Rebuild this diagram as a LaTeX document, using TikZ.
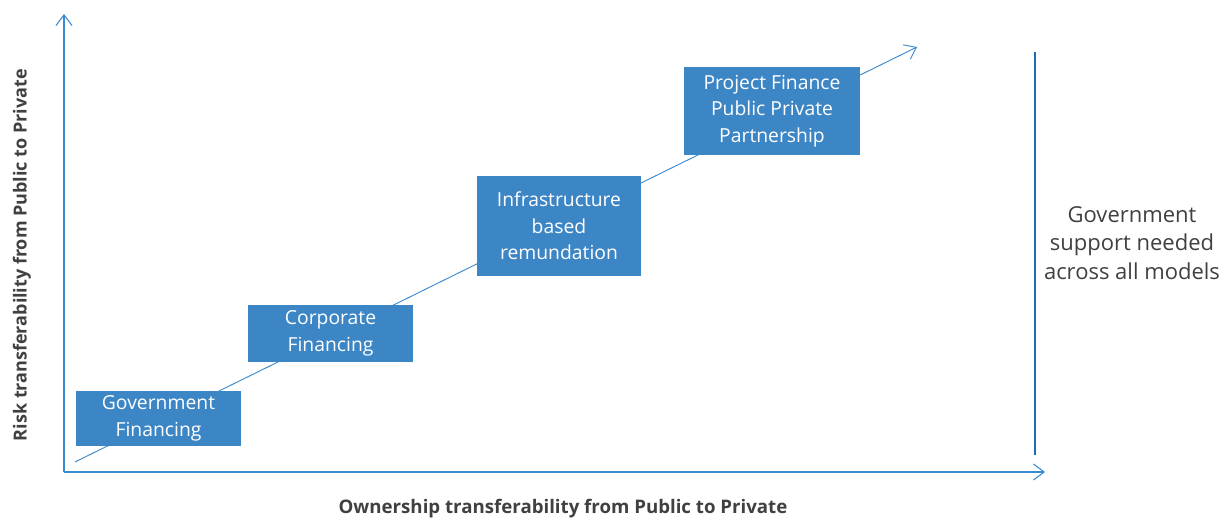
\documentclass[tikz,border=0pt]{standalone}
\usepackage{fontspec}
\setmainfont{Open Sans}
\usetikzlibrary{arrows.meta}
\definecolor{boxblue}{HTML}{3D86C6}
\definecolor{lineblue}{HTML}{3A8AD0}
\definecolor{barblue}{HTML}{1F6CB4}
\definecolor{textgray}{HTML}{404040}
\tikzset{
  model/.style={fill=boxblue, text=white, align=center, inner sep=0pt,
    font=\fontsize{14.5}{19.8}\selectfont},
  axis/.style={lineblue, line width=0.8pt, -{Straight Barb[length=8pt,width=12pt]}},
  axislabel/.style={text=textgray, font=\bfseries\fontsize{14}{16}\selectfont}
}
\begin{document}
\begin{tikzpicture}[x=0.75pt, y=-0.75pt]
  \useasboundingbox (0,0) rectangle (1221,520);
  \coordinate (origin) at (64,472);
  \coordinate (ytop) at (64,14);
  \coordinate (xend) at (1045,472);
  \coordinate (trendstart) at (75,462);
  \coordinate (trendend) at (917,47);
  \draw[axis] (origin) -- (ytop);
  \draw[axis] (origin) -- (xend);
  \draw[axis, line width=0.7pt] (trendstart) -- (trendend);
  \draw
    (158.5,418.5) node[model, minimum width=123.75pt, minimum height=41.25pt] (gov) {Government\\Financing}
    (330.5,333.5) node[model, minimum width=123.75pt, minimum height=42.75pt] (corp) {Corporate\\Financing}
    (559,226) node[model, minimum width=123pt, minimum height=75pt] (infra) {Infrastructure\\based\\remundation}
    (772,111) node[model, minimum width=132pt, minimum height=66pt] (pfi) {Project Finance\\Public Private\\Partnership};
  % government support bar
  \coordinate (bartop) at (1035,52);
  \coordinate (barbottom) at (1035,455);
  \draw[barblue, line width=2.2pt] (bartop) -- (barbottom);
  \node[text=textgray, align=center, font=\fontsize{16.5}{21.5}\selectfont] (support) at (1132,243)
    {Government\\support needed\\across all models};
  \node[axislabel] (xlabel) at (563,509) {Ownership transferability from Public to Private};
  \node[axislabel, rotate=90, font=\bfseries\fontsize{13.5}{16}\selectfont] (ylabel) at (22,255) {Risk transferability from Public to Private};
\end{tikzpicture}
\end{document}
